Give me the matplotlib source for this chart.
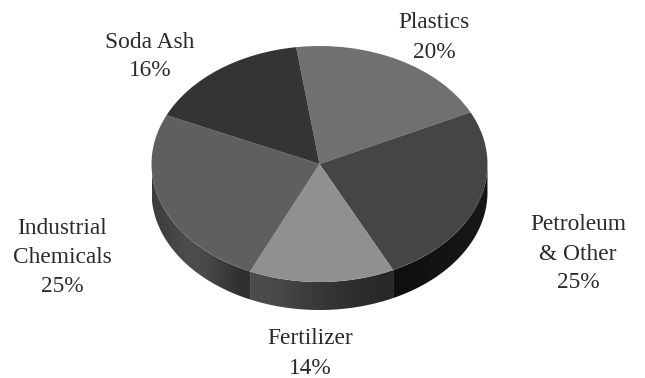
import numpy as np
import matplotlib
matplotlib.use("Agg")
import matplotlib.pyplot as plt
from matplotlib.patches import Polygon

plt.rcParams['font.family'] = ['Liberation Serif', 'DejaVu Serif']

# Data, clockwise from the top of the pie
categories = ['Plastics', 'Petroleum\n& Other', 'Fertilizer', 'Industrial\nChemicals', 'Soda Ash']
shares = [20, 25, 14, 25, 16]
top_colors = ['#707070', '#454545', '#909090', '#5f5f5f', '#343434']

# Wall shading, left to right along the rim
wall_shades = {
    'Petroleum\n& Other': [0.06, 0.07, 0.08, 0.09],
    'Fertilizer': [0.30, 0.24, 0.19, 0.16],
    'Industrial\nChemicals': [0.24, 0.32, 0.27, 0.18],
}

label_pos = {
    'Plastics': (434, 37.5),
    'Petroleum\n& Other': (578, 254),
    'Fertilizer': (310, 353.5),
    'Industrial\nChemicals': (62, 257.5),
    'Soda Ash': (150, 56.5),
}

CX, CY = 319.5, 164
RX, RY = 168, 118
DEPTH = 28
START = 98

fig = plt.figure(figsize=(6.45, 3.78), dpi=100)
ax = fig.add_axes([0, 0, 1, 1])
ax.axis('off')

# Side wall of each slice that faces the viewer
edges = START - np.cumsum([0] + shares) * 3.6
for cat, a0, a1 in zip(categories, edges[:-1], edges[1:]):
    # visible part of the rim lies between 0 and -180 degrees
    lo, hi = max(a1, -180), min(a0, 0)
    if lo >= hi:
        continue
    t = np.radians(np.linspace(hi, lo, 80))
    x = CX + RX * np.cos(t)
    y = CY - RY * np.sin(t)
    verts = np.r_[np.c_[x, y], np.c_[x, y + DEPTH][::-1]]
    im = ax.imshow(np.array(wall_shades[cat])[None, :], cmap='gray', vmin=0, vmax=1,
                   extent=[x.min(), x.max(), CY + RY + DEPTH, CY - 5], aspect='auto',
                   interpolation='bicubic', zorder=1)
    im.set_clip_path(Polygon(verts, transform=ax.transData))
ax.set_xlim(0, 645)
ax.set_ylim(378, 0)

# Top face: a pie squashed into an ellipse
pie_ax = fig.add_axes([0, 0, 1, 1], zorder=2)
pie_ax.patch.set_alpha(0)
pie_ax.pie(shares, colors=top_colors, startangle=START, counterclock=False,
           radius=1, wedgeprops={'linewidth': 0})
pie_ax.set_aspect('auto')
pie_ax.set_xlim(-CX / RX, (645 - CX) / RX)
pie_ax.set_ylim((CY - 378) / RY, CY / RY)
pie_ax.axis('off')

for cat, share in zip(categories, shares):
    px, py = label_pos[cat]
    ax.text(px, py, f'{cat}\n{share}%', ha='center', va='center', fontsize=16.8,
            color='#2a2a2a', linespacing=1.5, zorder=3)

fig.savefig('out.png', dpi=100)
plt.close(fig)
